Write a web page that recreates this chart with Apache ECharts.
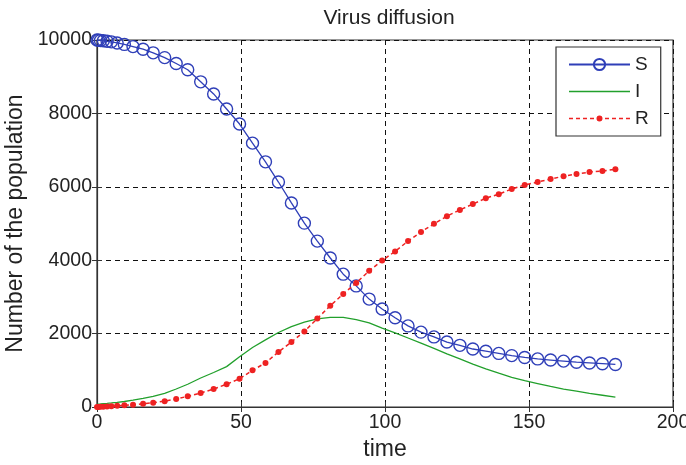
<!DOCTYPE html>
<html><head><meta charset="utf-8">
<script src="https://cdn.jsdelivr.net/npm/echarts@6/dist/echarts.min.js"></script>
<style>html,body{margin:0;padding:0;background:#fff}#c{width:686px;height:465px}</style>
</head><body><div id="c"></div>
<script>
const times = [0, 0.5, 1.2, 2.2, 3.5, 5, 7, 9.5, 12.5, 16, 19.5, 23.5, 27.5, 31.5, 36, 40.5, 45, 49.5, 54, 58.5, 63, 67.5, 72, 76.5, 81, 85.5, 90, 94.5, 99, 103.5, 108, 112.5, 117, 121.5, 126, 130.5, 135, 139.5, 144, 148.5, 153, 157.5, 162, 166.5, 171, 175.5, 180];
const S = [10000, 9996, 9988, 9978, 9965, 9950, 9920, 9880, 9820, 9750, 9650, 9520, 9360, 9190, 8860, 8530, 8120, 7710, 7190, 6680, 6130, 5560, 5010, 4520, 4060, 3620, 3300, 2940, 2670, 2430, 2210, 2040, 1910, 1770, 1680, 1580, 1520, 1460, 1400, 1350, 1310, 1280, 1250, 1220, 1200, 1180, 1160];
const I = [80, 82, 86, 92, 100, 110, 125, 150, 185, 235, 290, 370, 490, 620, 790, 940, 1100, 1370, 1620, 1830, 2030, 2190, 2310, 2400, 2440, 2440, 2380, 2290, 2150, 2020, 1880, 1740, 1600, 1450, 1310, 1170, 1040, 920, 810, 720, 640, 560, 490, 430, 370, 320, 270];
const R = [0, 2, 5, 10, 15, 22, 32, 45, 60, 90, 115, 160, 220, 290, 380, 490, 620, 770, 1000, 1200, 1500, 1770, 2060, 2410, 2760, 3080, 3380, 3710, 3990, 4240, 4520, 4770, 4990, 5200, 5370, 5530, 5690, 5800, 5940, 6050, 6130, 6210, 6290, 6350, 6400, 6430, 6480];
const xTicks = [0, 50, 100, 150, 200];
const yTicks = [0, 2000, 4000, 6000, 8000, 10000];
const titleText = 'Virus diffusion';
const xName = 'time';
const yName = 'Number of the population';
const seriesNames = ['S', 'I', 'R'];

const pair = (ys) => times.map((t, i) => [t, ys[i]]);
const FONT = 'Liberation Sans, Arial, sans-serif';
const gridDash = { color: '#111', width: 1, type: [5, 4] };

// legend icons (shape only): thin solid line; dashed line with small dot
const iconLine = 'path://M0,0 H61 V1.3 H0 Z';
let dashPath = '';
[0, 7, 14, 21, 36, 43, 50, 57].forEach((x) => {
  const x2 = Math.min(x + 4, 61);
  dashPath += 'M' + x + ',2.25 H' + x2 + ' V3.75 H' + x + ' Z ';
});
dashPath += 'M27.5,3 A3,3 0 1,1 33.5,3 A3,3 0 1,1 27.5,3 Z';
const iconDashDot = 'path://' + dashPath;

const chart = echarts.init(document.getElementById('c'), null, { renderer: 'canvas' });
chart.setOption({
  animation: false,
  backgroundColor: '#fff',
  title: { text: titleText, left: 384, top: 3, textAlign: 'center',
    textStyle: { fontFamily: FONT, fontSize: 21, fontWeight: 'normal', color: '#222' } },
  grid: { left: 97, right: 13, top: 40, bottom: 58, containLabel: false, outerBoundsMode: 'none',
    show: true, borderColor: '#333', borderWidth: 1.2 },
  legend: {
    orient: 'vertical', left: 556, top: 47, padding: [8, 12, 8, 12], itemGap: 8,
    itemWidth: 61, itemHeight: 14, backgroundColor: '#fff', borderColor: '#333', borderWidth: 1.2,
    textStyle: { fontFamily: FONT, fontSize: 19, color: '#222' },
    data: [
      { name: seriesNames[0] },
      { name: seriesNames[1], icon: iconLine, symbolKeepAspect: true, itemStyle: { color: '#22a02c', borderWidth: 0 } },
      { name: seriesNames[2], icon: iconDashDot, symbolKeepAspect: true, itemStyle: { color: '#ee2222', borderWidth: 0 } }
    ]
  },
  xAxis: [{
    type: 'value', min: 0, max: 200, interval: 50,
    name: xName, nameLocation: 'middle', nameGap: 31,
    nameTextStyle: { fontFamily: FONT, fontSize: 23, color: '#222', verticalAlign: 'top' },
    axisLine: { show: true, lineStyle: { color: '#333', width: 1.2 } },
    axisTick: { show: true, inside: true, length: 5, lineStyle: { color: '#333' } },
    axisLabel: { fontFamily: FONT, fontSize: 19.5, color: '#222', margin: 6,
      formatter: (v) => xTicks.includes(v) ? String(v) : '' },
    splitLine: { show: true, lineStyle: gridDash }
  }, {
    type: 'value', position: 'top', min: 0, max: 200, interval: 50,
    axisLine: { show: false }, axisLabel: { show: false }, splitLine: { show: false },
    axisTick: { show: true, inside: true, length: 5, lineStyle: { color: '#333' } }
  }],
  yAxis: [{
    type: 'value', min: 0, max: 10000, interval: 2000,
    name: yName, nameLocation: 'middle', nameGap: 67, nameRotate: 90,
    nameTextStyle: { fontFamily: FONT, fontSize: 23, color: '#222' },
    axisLine: { show: true, lineStyle: { color: '#333', width: 1.2 } },
    axisTick: { show: true, inside: true, length: 5, lineStyle: { color: '#333' } },
    axisLabel: { fontFamily: FONT, fontSize: 19.5, color: '#222', margin: 5,
      formatter: (v) => yTicks.includes(v) ? String(v) : '' },
    splitLine: { show: true, lineStyle: gridDash }
  }, {
    type: 'value', position: 'right', min: 0, max: 10000, interval: 2000,
    axisLine: { show: false }, axisLabel: { show: false }, splitLine: { show: false },
    axisTick: { show: true, inside: true, length: 5, lineStyle: { color: '#333' } }
  }],
  series: [{
    name: seriesNames[0], type: 'line', data: pair(S),
    symbol: 'circle', symbolSize: 12, showAllSymbol: true,
    lineStyle: { color: '#2f3fb8', width: 1.3 },
    itemStyle: { color: 'rgba(255,255,255,0)', borderColor: '#2f3fb8', borderWidth: 1.4 },
    z: 3
  }, {
    name: seriesNames[1], type: 'line', data: pair(I),
    symbol: 'none', showSymbol: false,
    lineStyle: { color: '#22a02c', width: 1.3 }, itemStyle: { color: '#22a02c' },
    z: 2
  }, {
    name: seriesNames[2], type: 'line', data: pair(R),
    symbol: 'circle', symbolSize: 6, showAllSymbol: true,
    lineStyle: { color: '#ee2222', width: 1.5, type: [4, 3] },
    itemStyle: { color: '#ee2222' },
    z: 4
  }]
});
</script></body></html>
